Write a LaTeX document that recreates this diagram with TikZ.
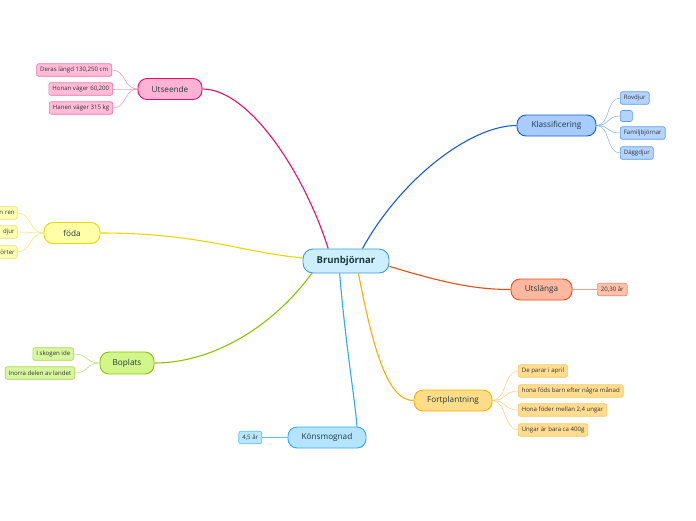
\documentclass[tikz,border=0pt]{standalone}
\usepackage{fontspec}
\setmainfont{Open Sans}
\pgfdeclarelayer{background}
\pgfsetlayers{background,main}
\definecolor{txt}{HTML}{1E3A3A}
\definecolor{ctrF}{HTML}{CDEEFD}\definecolor{ctrD}{HTML}{3A9BDC}
\definecolor{utF}{HTML}{FFB3D4}\definecolor{utD}{HTML}{E0106F}\definecolor{utL}{HTML}{FFBCD9}\definecolor{utLD}{HTML}{F070A8}
\definecolor{klF}{HTML}{A8CCFF}\definecolor{klD}{HTML}{1060D0}\definecolor{klL}{HTML}{B4D4FF}\definecolor{klLD}{HTML}{5A9AEE}
\definecolor{foF}{HTML}{FFFFA8}\definecolor{foD}{HTML}{E8D800}\definecolor{foL}{HTML}{FFFFB4}\definecolor{foLD}{HTML}{F0E060}
\definecolor{boF}{HTML}{D4F58A}\definecolor{boD}{HTML}{88C400}\definecolor{boL}{HTML}{D8F5A0}\definecolor{boLD}{HTML}{A8D850}
\definecolor{usF}{HTML}{FFB8A0}\definecolor{usD}{HTML}{E84E14}\definecolor{usL}{HTML}{FFC0AA}\definecolor{usLD}{HTML}{F08A70}
\definecolor{fpF}{HTML}{FFDD88}\definecolor{fpD}{HTML}{F5B000}\definecolor{fpL}{HTML}{FFDC90}\definecolor{fpLD}{HTML}{F8C860}
\definecolor{koF}{HTML}{B4E4FF}\definecolor{koD}{HTML}{30AAF0}\definecolor{koL}{HTML}{B8E6FF}\definecolor{koLD}{HTML}{60C0F0}
\tikzset{
  mainnode/.style 2 args={draw=#1, fill=#2, rounded corners=9pt, line width=0.9pt, minimum height=21pt, text=txt, font=\fontsize{8.2}{9}\selectfont, inner sep=0pt},
  leafnode/.style 2 args={draw=#1, fill=#2, rounded corners=2pt, line width=0.6pt, minimum height=12.5pt, inner xsep=3.5pt, inner ysep=0pt, text=black!80, font=\fontsize{6.1}{6.5}\selectfont},
  branch/.style={line width=1.1pt, draw=#1},
  twig/.style={line width=0.6pt, draw=#1},
}
\begin{document}
\begin{tikzpicture}[x=1pt,y=-1pt]
\useasboundingbox (0,0) rectangle (696,520);
\clip (0,0) rectangle (696,520);
% center
\node[draw=ctrD, fill=ctrF, rounded corners=10pt, line width=0.9pt, minimum width=86pt, minimum height=24pt, text=txt, font=\fontsize{9.5}{10}\selectfont\bfseries, inner sep=0pt] (c) at (346,261) {Brunbjörnar};
% main branches
\node[mainnode={utD}{utF}, minimum width=64pt] (ut) at (170,89) {Utseende};
\node[mainnode={klD}{klF}, minimum width=79pt] (kl) at (556.5,125.5) {Klassificering};
\node[mainnode={foD}{foF}, minimum width=56pt] (fo) at (72,233) {föda};
\node[mainnode={boD}{boF}, minimum width=54pt, minimum height=22pt] (bo) at (127,363) {Boplats};
\node[mainnode={usD}{usF}, minimum width=61pt] (us) at (541.5,289.5) {Utslänga};
\node[mainnode={fpD}{fpF}, minimum width=78pt] (fp) at (453,400.5) {Fortplantning};
\node[mainnode={koD}{koF}, minimum width=78pt] (ko) at (327,437.5) {Könsmognad};
% leaves: Utseende
\node[leafnode={utLD}{utL}, anchor=east] (u1) at (112,70) {Deras längd 130,250 cm};
\node[leafnode={utLD}{utL}, anchor=east] (u2) at (113,89) {Honan väger 60,200};
\node[leafnode={utLD}{utL}, anchor=east] (u3) at (113,108) {Hanen väger 315 kg};
% leaves: Klassificering
\node[leafnode={klLD}{klL}, anchor=west] (k1) at (620,98) {Rovdjur};
\node[leafnode={klLD}{klL}, anchor=west, minimum width=12pt, minimum height=11pt] (k2) at (620,116) {};
\node[leafnode={klLD}{klL}, anchor=west] (k3) at (620,133) {Familjbjörnar};
\node[leafnode={klLD}{klL}, anchor=west] (k4) at (620,153) {Däggdjur};
% leaves: föda (cut off at the left edge)
\node[leafnode={foLD}{foL}, anchor=east, inner xsep=2.5pt, text width=30pt, align=right] (f1) at (17.5,213) {n ren};
\node[leafnode={foLD}{foL}, anchor=east, inner xsep=2.5pt, text width=30pt, align=right] (f2) at (17.5,232) {djur};
\node[leafnode={foLD}{foL}, anchor=east, inner xsep=2.5pt, text width=30pt, align=right] (f3) at (17.5,252) {örter};
% leaves: Boplats
\node[leafnode={boLD}{boL}, anchor=east] (b1) at (74,354) {I skogen ide};
\node[leafnode={boLD}{boL}, anchor=east] (b2) at (75,373) {Inorra delen av landet};
% leaves: Utslänga
\node[leafnode={usLD}{usL}, anchor=west] (s1) at (597,289.5) {20,30 år};
% leaves: Fortplantning
\node[leafnode={fpLD}{fpL}, anchor=west] (p1) at (518,371) {De parar i april};
\node[leafnode={fpLD}{fpL}, anchor=west] (p2) at (518,391) {hona föds barn efter några månad};
\node[leafnode={fpLD}{fpL}, anchor=west] (p3) at (518,410) {Hona föder mellan 2,4 ungar};
\node[leafnode={fpLD}{fpL}, anchor=west] (p4) at (518,430) {Ungar är bara ca 400g};
% leaves: Könsmognad
\node[leafnode={koLD}{koL}, anchor=east] (m1) at (262,437.5) {4,5 år};
\begin{pgfonlayer}{background}
% branches
\draw[branch=utD] (c.145) .. controls (305,175) and (250,89) .. (ut.east);
\draw[branch=klD] (c.37) .. controls (400,180) and (470,125.5) .. (kl.west);
\draw[branch=foD] (c.176) .. controls (240,252) and (200,233) .. (fo.east);
\draw[branch=boD] (c.200) .. controls (270,330) and (210,363) .. (bo.east);
\draw[branch=usD] (c.-7) .. controls (450,285) and (480,289.5) .. (us.west);
\draw[branch=fpD] (c.-45) .. controls (375,360) and (390,400.5) .. (fp.west);
\draw[branch=koD] (c.-117) .. controls (345,340) and (355,400) .. ([xshift=30pt]ko.north);
% twigs
\foreach \l in {u1,u2,u3}{\draw[twig=utLD!70] (ut.west) .. controls +(-14,0) and +(14,0) .. (\l.east);}
\foreach \l in {k1,k2,k3,k4}{\draw[twig=klLD!70] (kl.east) .. controls +(14,0) and +(-14,0) .. (\l.west);}
\foreach \l in {f1,f2,f3}{\draw[twig=foLD!80] (fo.west) .. controls +(-14,0) and +(14,0) .. (\l.east);}
\foreach \l in {b1,b2}{\draw[twig=boLD!80] (bo.west) .. controls +(-14,0) and +(14,0) .. (\l.east);}
\draw[twig=usLD!80] (us.east) -- (s1.west);
\foreach \l in {p1,p2,p3,p4}{\draw[twig=fpLD!80] (fp.east) .. controls +(14,0) and +(-14,0) .. (\l.west);}
\draw[twig=koLD] (ko.west) -- (m1.east);
\end{pgfonlayer}
\end{tikzpicture}
\end{document}
